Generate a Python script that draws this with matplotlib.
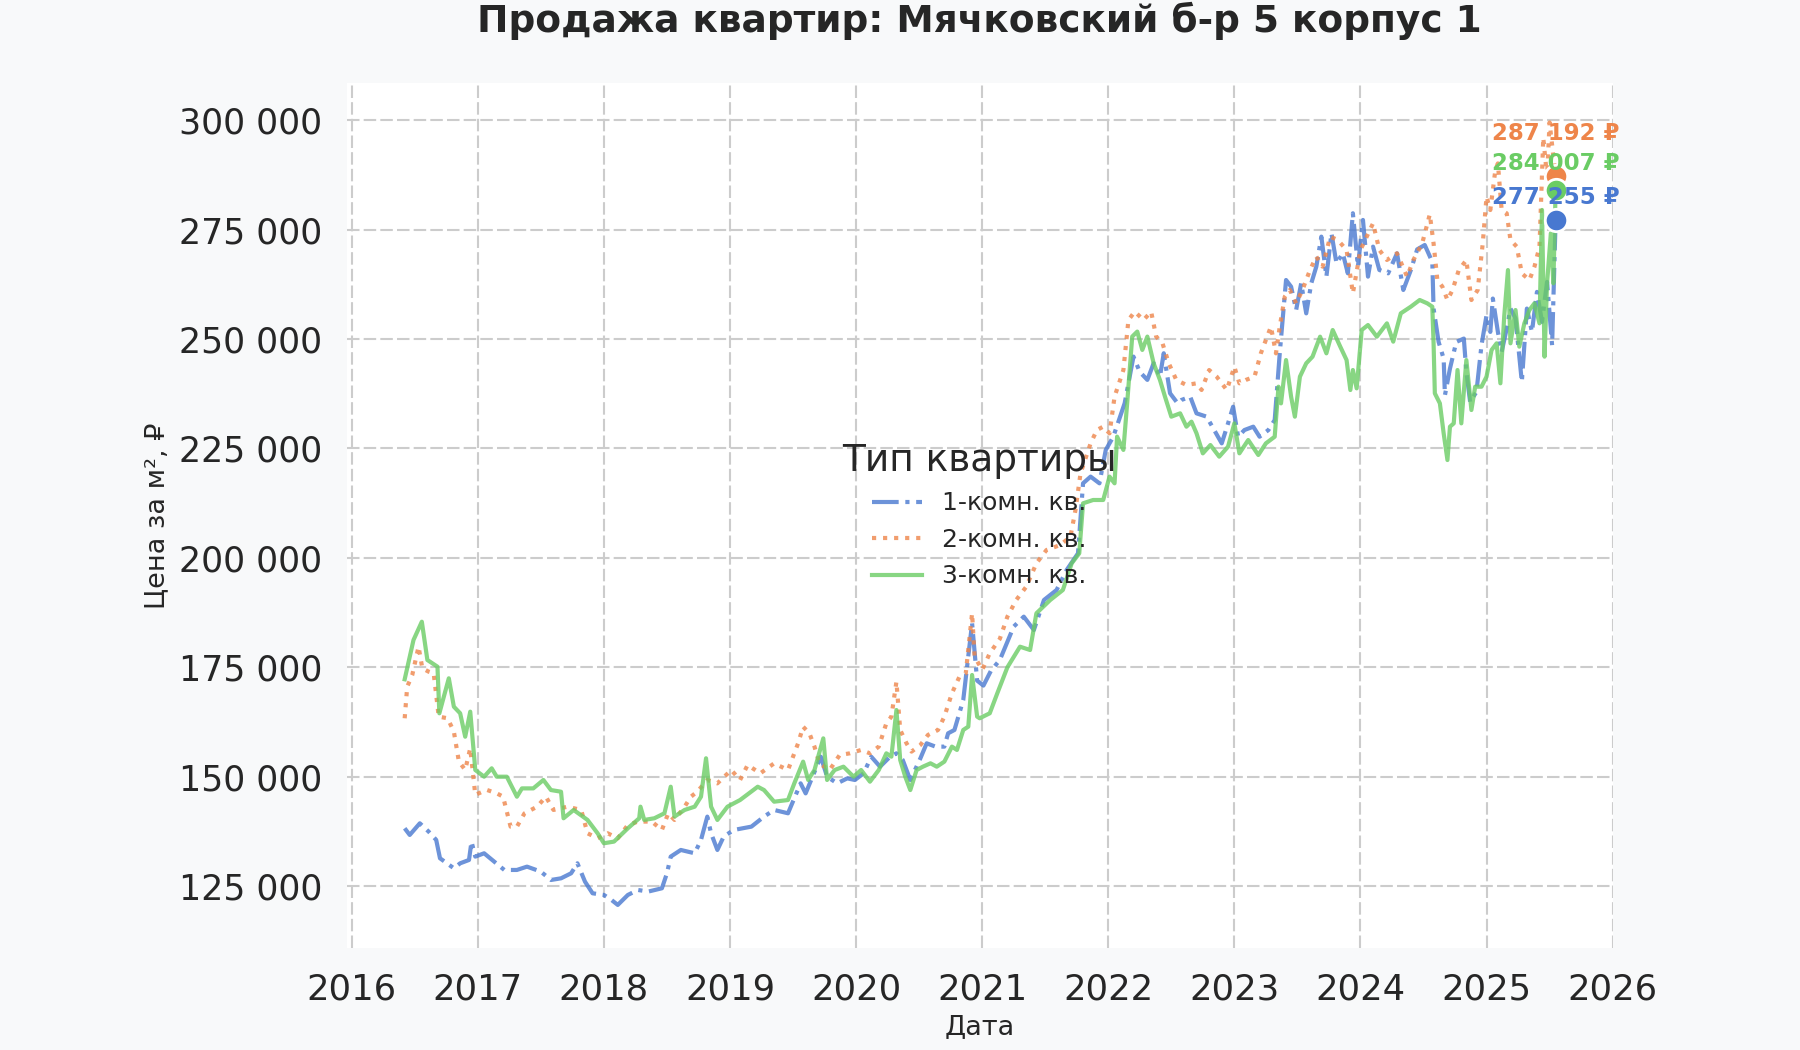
import matplotlib
matplotlib.use('Agg')
import matplotlib.pyplot as plt
from matplotlib.ticker import FuncFormatter

# --- data (decimal years, rub per m2) ---
t1 = [2016.42, 2016.46, 2016.54, 2016.61, 2016.67, 2016.70, 2016.81, 2016.86, 2016.93, 2016.95,
      2016.98, 2017.05, 2017.13, 2017.21, 2017.31, 2017.39, 2017.50, 2017.58, 2017.66, 2017.74,
      2017.79, 2017.85, 2017.91, 2018.00, 2018.06, 2018.11, 2018.19, 2018.27, 2018.35, 2018.46,
      2018.50, 2018.53, 2018.61, 2018.72, 2018.77, 2018.82, 2018.85, 2018.90, 2018.95, 2019.03,
      2019.17, 2019.27, 2019.35, 2019.46, 2019.56, 2019.60, 2019.72, 2019.77, 2019.85, 2019.93,
      2019.99, 2020.06, 2020.12, 2020.19, 2020.27, 2020.32, 2020.37, 2020.43, 2020.51, 2020.56,
      2020.63, 2020.70, 2020.73, 2020.78, 2020.85, 2020.92, 2020.96, 2021.01, 2021.07, 2021.14,
      2021.25, 2021.33, 2021.41, 2021.49, 2021.59, 2021.67, 2021.76, 2021.80, 2021.86, 2021.93,
      2021.98, 2022.04, 2022.13, 2022.20, 2022.25, 2022.31, 2022.36, 2022.41, 2022.44, 2022.49,
      2022.55, 2022.58, 2022.65, 2022.70, 2022.78, 2022.84, 2022.90, 2022.95, 2022.99, 2023.03,
      2023.08, 2023.15, 2023.20, 2023.27, 2023.32, 2023.36, 2023.41, 2023.45, 2023.49, 2023.53,
      2023.57, 2023.61, 2023.65, 2023.69, 2023.73, 2023.77, 2023.81, 2023.86, 2023.90, 2023.94,
      2023.98, 2024.02, 2024.06, 2024.10, 2024.15, 2024.22, 2024.29, 2024.34, 2024.40, 2024.45,
      2024.51, 2024.57, 2024.58, 2024.62, 2024.66, 2024.67, 2024.71, 2024.76, 2024.82, 2024.84,
      2024.87, 2024.92, 2024.96, 2025.00, 2025.03, 2025.05, 2025.09, 2025.12, 2025.16, 2025.19,
      2025.23, 2025.28, 2025.32, 2025.36, 2025.40, 2025.44, 2025.48, 2025.52, 2025.548]
v1 = [138210, 136690, 139350, 137450, 135550, 131360, 129070, 130210, 130970, 135170,
      131740, 132500, 130590, 128690, 128690, 129450, 128310, 126400, 126780, 127930,
      130210, 126020, 123360, 122980, 121840, 120700, 122980, 124120, 123740, 124500,
      127930, 131740, 133260, 132500, 135550, 140880, 137070, 133260, 136310, 137830,
      138590, 140880, 142400, 141640, 148480, 146190, 154570, 150000, 148480, 149620,
      149250, 150760, 154580, 152290, 154580, 155340, 153820, 149250, 154200, 157630,
      156870, 156870, 159920, 160680, 167540, 185050, 171960, 170820, 174240, 176670,
      184290, 186570, 183520, 190380, 192660, 197230, 201040, 217040, 218570, 217040,
      224660, 227710, 235330, 246000, 242500, 240670, 244480, 241430, 246760, 237620,
      235330, 236080, 236840, 233030, 232270, 229220, 226170, 230740, 234550, 227690,
      229220, 229980, 227690, 229220, 231500, 246740, 263500, 261980, 256650, 262740,
      255880, 262740, 266550, 273410, 264270, 274170, 267310, 269600, 265030, 278750,
      266550, 277220, 264270, 271120, 265790, 265030, 269600, 261220, 265790, 270500,
      271500, 267630, 256970, 249350, 245540, 237160, 243260, 249350, 250120, 242500,
      235640, 237930, 248590, 255450, 251640, 259260, 251640, 247070, 252400, 256970,
      254690, 240210, 256970, 251640, 260780, 253930, 263070, 248590, 277255]

t2 = [2016.42, 2016.44, 2016.48, 2016.53, 2016.56, 2016.61, 2016.65, 2016.69, 2016.76, 2016.81,
      2016.85, 2016.90, 2016.94, 2016.98, 2017.07, 2017.15, 2017.20, 2017.26, 2017.31, 2017.37,
      2017.47, 2017.54, 2017.60, 2017.71, 2017.82, 2017.87, 2017.95, 2018.03, 2018.11, 2018.19,
      2018.27, 2018.38, 2018.46, 2018.51, 2018.56, 2018.64, 2018.69, 2018.74, 2018.82, 2018.90,
      2019.01, 2019.08, 2019.14, 2019.24, 2019.35, 2019.46, 2019.54, 2019.58, 2019.63, 2019.67,
      2019.71, 2019.79, 2019.87, 2019.95, 2020.04, 2020.11, 2020.18, 2020.24, 2020.28, 2020.32,
      2020.35, 2020.40, 2020.44, 2020.51, 2020.57, 2020.65, 2020.70, 2020.76, 2020.82, 2020.87,
      2020.92, 2020.94, 2021.00, 2021.06, 2021.14, 2021.20, 2021.27, 2021.35, 2021.43, 2021.51,
      2021.62, 2021.70, 2021.74, 2021.78, 2021.86, 2021.91, 2021.96, 2022.01, 2022.05, 2022.12,
      2022.16, 2022.21, 2022.28, 2022.34, 2022.38, 2022.43, 2022.48, 2022.54, 2022.62, 2022.70,
      2022.74, 2022.80, 2022.86, 2022.94, 2023.00, 2023.04, 2023.09, 2023.16, 2023.21, 2023.25,
      2023.29, 2023.33, 2023.36, 2023.40, 2023.44, 2023.49, 2023.54, 2023.60, 2023.65, 2023.70,
      2023.76, 2023.82, 2023.89, 2023.94, 2024.00, 2024.05, 2024.10, 2024.15, 2024.21, 2024.29,
      2024.37, 2024.42, 2024.49, 2024.55, 2024.58, 2024.61, 2024.65, 2024.69, 2024.73, 2024.78,
      2024.84, 2024.88, 2024.93, 2024.97, 2025.00, 2025.03, 2025.07, 2025.09, 2025.12, 2025.16,
      2025.19, 2025.24, 2025.28, 2025.34, 2025.38, 2025.42, 2025.45, 2025.48, 2025.50, 2025.548]
v2 = [163350, 170570, 173240, 179710, 174760, 174000, 173620, 163730, 163350, 160310,
      153460, 151560, 156500, 145850, 147000, 146200, 145450, 138580, 138580, 141620,
      143140, 145430, 142400, 143140, 142400, 137070, 135930, 137070, 135930, 138970,
      139740, 139740, 137830, 141620, 140120, 143140, 145430, 146570, 149250, 148480,
      151530, 149250, 152680, 150760, 153050, 151530, 157620, 161420, 159900, 156860,
      153000, 151530, 154960, 155340, 156110, 155340, 156870, 162200, 163730, 171720,
      160680, 157630, 155730, 157250, 159540, 160680, 163730, 169060, 172870, 173630,
      187340, 177440, 174390, 178200, 181500, 186570, 190380, 193430, 198760, 201800,
      202950, 204850, 210940, 219320, 226180, 229220, 229990, 228460, 236840, 242930,
      254360, 256270, 254360, 256270, 250570, 249050, 244460, 240650, 239510, 239890,
      238370, 242930, 241410, 238370, 243690, 239890, 240650, 241410, 246740, 249790,
      252840, 246740, 252840, 259700, 261220, 258170, 261220, 265790, 268840, 266550,
      273410, 272650, 270360, 260460, 270360, 273410, 276460, 270360, 268080, 269600,
      264270, 268080, 271890, 278500, 271860, 263490, 261970, 258920, 261210, 265770,
      268060, 258920, 261210, 271860, 282530, 279490, 288630, 290150, 279490, 278730,
      272630, 271110, 265010, 263490, 266540, 271110, 296000, 287100, 299500, 287192]

t3 = [2016.42, 2016.49, 2016.556, 2016.60, 2016.68, 2016.695, 2016.77, 2016.81, 2016.86, 2016.90,
      2016.94, 2016.98, 2017.05, 2017.11, 2017.15, 2017.23, 2017.31, 2017.35, 2017.44, 2017.52,
      2017.58, 2017.66, 2017.68, 2017.76, 2017.87, 2017.95, 2018.00, 2018.08, 2018.19, 2018.28,
      2018.29, 2018.32, 2018.40, 2018.48, 2018.53, 2018.56, 2018.64, 2018.72, 2018.77, 2018.81,
      2018.85, 2018.90, 2018.98, 2019.08, 2019.22, 2019.27, 2019.35, 2019.46, 2019.51, 2019.58,
      2019.62, 2019.67, 2019.74, 2019.77, 2019.83, 2019.90, 2019.98, 2020.04, 2020.11, 2020.18,
      2020.24, 2020.28, 2020.32, 2020.35, 2020.39, 2020.43, 2020.48, 2020.53, 2020.59, 2020.64,
      2020.70, 2020.76, 2020.80, 2020.85, 2020.89, 2020.92, 2020.96, 2020.98, 2021.06, 2021.12,
      2021.20, 2021.30, 2021.38, 2021.43, 2021.54, 2021.64, 2021.71, 2021.77, 2021.80, 2021.88,
      2021.96, 2022.01, 2022.05, 2022.07, 2022.12, 2022.15, 2022.19, 2022.23, 2022.27, 2022.31,
      2022.36, 2022.41, 2022.45, 2022.50, 2022.57, 2022.62, 2022.66, 2022.70, 2022.75, 2022.81,
      2022.88, 2022.95, 2023.00, 2023.04, 2023.11, 2023.19, 2023.25, 2023.32, 2023.35, 2023.37,
      2023.41, 2023.45, 2023.48, 2023.52, 2023.57, 2023.62, 2023.68, 2023.73, 2023.78, 2023.84,
      2023.89, 2023.92, 2023.94, 2023.97, 2024.01, 2024.06, 2024.13, 2024.21, 2024.26, 2024.32,
      2024.40, 2024.47, 2024.53, 2024.57, 2024.58, 2024.59, 2024.63, 2024.66, 2024.69, 2024.71,
      2024.74, 2024.77, 2024.80, 2024.84, 2024.88, 2024.91, 2024.96, 2025.00, 2025.04, 2025.08,
      2025.11, 2025.14, 2025.17, 2025.19, 2025.23, 2025.26, 2025.30, 2025.34, 2025.38, 2025.42,
      2025.44, 2025.46, 2025.48, 2025.51, 2025.53, 2025.548]
v3 = [172260, 181240, 185420, 176670, 175140, 164490, 172490, 166000, 164490, 159140,
      164860, 151530, 150000, 151920, 150000, 150000, 145430, 147330, 147330, 149250,
      146950, 146570, 140500, 142400, 140120, 137070, 134790, 135170, 138210, 140500,
      143150, 140120, 140500, 141640, 147710, 140880, 142400, 143150, 145430, 154210,
      143150, 140120, 143150, 144670, 147710, 146950, 144290, 144670, 148480, 153440,
      149250, 151530, 158760, 149250, 151530, 152290, 150000, 151530, 148860, 151530,
      155340, 154580, 165240, 153820, 150000, 146950, 151530, 152290, 153060, 152290,
      153440, 156870, 156110, 160680, 161440, 173240, 163730, 163350, 164490, 169060,
      175000, 179710, 178950, 187340, 190380, 192660, 198760, 201040, 212470, 213230,
      213230, 218570, 217040, 227710, 224670, 235330, 250570, 251710, 247520, 250570,
      244460, 240650, 236840, 232270, 233030, 229980, 231130, 228460, 223890, 225790,
      223130, 225410, 230740, 223890, 226940, 223510, 226170, 227690, 239120, 235310,
      245210, 236840, 232270, 241410, 244460, 245980, 250550, 246740, 252070, 248270,
      245210, 238360, 242930, 238740, 252070, 253210, 250550, 253590, 249410, 255880,
      257410, 258930, 258170, 257400, 249030, 237600, 235310, 228460, 222360, 229980,
      230740, 242930, 230740, 245210, 233790, 239120, 239120, 241410, 247500, 249030,
      239890, 255110, 265770, 249030, 256640, 248270, 253600, 256640, 258170, 253600,
      279510, 245980, 262740, 274170, 262740, 284007]

labels = ['1-комн. кв.', '2-комн. кв.', '3-комн. кв.']
colors = ['#4878d0', '#ee854a', '#6acc64']
styles = ['-.', ':', '-']
text_offsets = [22, 43, 27]   # px above the last point
year_ticks = list(range(2016, 2027))
price_ticks = [125000, 150000, 175000, 200000, 225000, 250000, 275000, 300000]

plt.rcParams['font.family'] = 'DejaVu Sans'
plt.rcParams['text.color'] = '#262626'
plt.rcParams['axes.labelcolor'] = '#262626'
plt.rcParams['xtick.color'] = '#262626'
plt.rcParams['ytick.color'] = '#262626'

fig = plt.figure(figsize=(18, 10.5), dpi=100, facecolor='#f8f9fa')
ax = fig.add_axes([0.1926, 0.0967, 0.7033, 0.8246])
ax.set_facecolor('white')

series = [(t1, v1), (t2, v2), (t3, v3)]
for (t, v), lab, c, ls in zip(series, labels, colors, styles):
    ax.plot(t, v, ls, color=c, lw=3.0, alpha=0.8, label=lab)

for (t, v), c, off in zip(series, colors, text_offsets):
    ax.scatter([t[-1]], [v[-1]], s=260, color=c, edgecolor='white', linewidth=2, zorder=5)
    ax.annotate(f'{v[-1]:,.0f} ₽'.replace(',', ' '), xy=(t[-1], v[-1]),
                xytext=(0, off), textcoords='offset pixels', ha='center', va='center',
                fontsize=16.5, fontweight='bold', color=c, zorder=6)

ax.set_xlim(2015.96, 2026.0)
ax.set_ylim(110750, 308600)
ax.set_xticks(year_ticks)
ax.set_yticks(price_ticks)
ax.yaxis.set_major_formatter(FuncFormatter(lambda x, p: f'{x:,.0f}'.replace(',', ' ')))
ax.tick_params(axis='x', length=0, pad=17, labelsize=25.5)
ax.tick_params(axis='y', length=0, pad=17.5, labelsize=25)
ax.grid(True, color='#cccccc', linestyle=(0, (6, 2)), linewidth=1.5)
for s in ax.spines.values():
    s.set_visible(False)

ax.set_xlabel('Дата', fontsize=19.5)
ax.xaxis.set_label_coords(0.5, -0.076)
ax.set_ylabel('Цена за м², ₽', fontsize=19.5)
ax.yaxis.set_label_coords(-0.139, 0.5)

fig.text(0.5443, 0.9800, 'Продажа квартир: Мячковский б-р 5 корпус 1',
         ha='center', va='center', fontsize=27, fontweight='bold')

ax.legend(title='Тип квартиры', loc='center', frameon=False, fontsize=18,
          title_fontsize=27)

fig.savefig('out.png', dpi=100, facecolor=fig.get_facecolor())
